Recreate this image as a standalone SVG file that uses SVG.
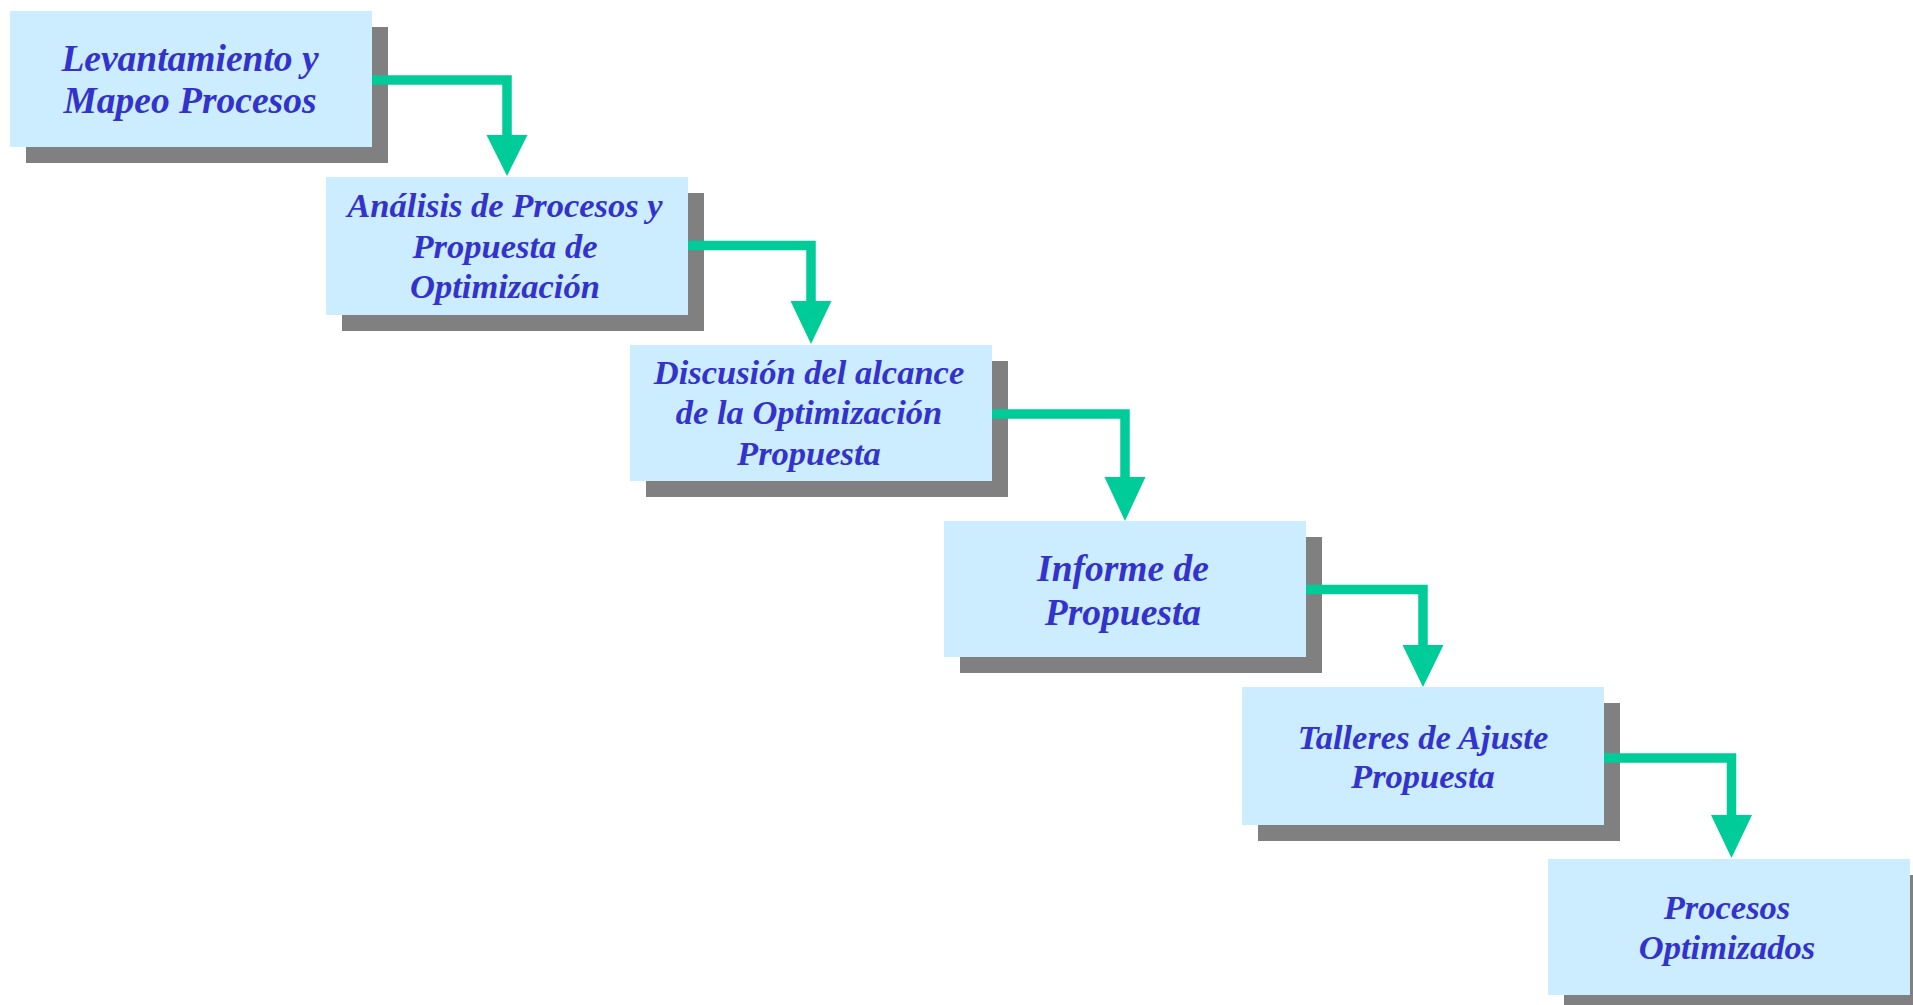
<svg xmlns="http://www.w3.org/2000/svg" width="1913" height="1005" viewBox="0 0 1913 1005">
<style>
.shadow{fill:#808080}
.box{fill:#CCECFF}
.t{font-family:"Liberation Serif","Times New Roman",serif;font-weight:bold;font-style:italic;fill:#3333CC;text-anchor:middle}
.lg{font-size:37.5px}
.sm{font-size:34.5px}
.conn{fill:none;stroke:#00CC99;stroke-width:9.5;stroke-linejoin:miter}
.head{fill:#00CC99}
</style>
<rect width="1913" height="1005" fill="#FFFFFF"/>
<g id="node1">
<rect class="shadow" x="26" y="27" width="362" height="136"/>
<rect class="box" x="10" y="11" width="362" height="136"/>
<text class="t lg" x="190" y="71">Levantamiento y</text>
<text class="t lg" x="190" y="113">Mapeo Procesos</text>
</g>
<g id="node2">
<rect class="shadow" x="342" y="193" width="362" height="138"/>
<rect class="box" x="326" y="177" width="362" height="138"/>
<text class="t sm" x="505" y="217">Análisis de Procesos y</text>
<text class="t sm" x="505" y="258">Propuesta de</text>
<text class="t sm" x="505" y="298">Optimización</text>
</g>
<g id="node3">
<rect class="shadow" x="646" y="361" width="362" height="136"/>
<rect class="box" x="630" y="345" width="362" height="136"/>
<text class="t sm" x="809" y="384">Discusión del alcance</text>
<text class="t sm" x="809" y="424">de la Optimización</text>
<text class="t sm" x="809" y="465">Propuesta</text>
</g>
<g id="node4">
<rect class="shadow" x="960" y="537" width="362" height="136"/>
<rect class="box" x="944" y="521" width="362" height="136"/>
<text class="t lg" x="1123" y="581">Informe de</text>
<text class="t lg" x="1123" y="625">Propuesta</text>
</g>
<g id="node5">
<rect class="shadow" x="1258" y="703" width="362" height="138"/>
<rect class="box" x="1242" y="687" width="362" height="138"/>
<text class="t sm" x="1423" y="749">Talleres de Ajuste</text>
<text class="t sm" x="1423" y="788">Propuesta</text>
</g>
<g id="node6">
<rect class="shadow" x="1564" y="875" width="362" height="136"/>
<rect class="box" x="1548" y="859" width="362" height="136"/>
<text class="t sm" x="1727" y="919">Procesos</text>
<text class="t sm" x="1727" y="959">Optimizados</text>
</g>
<g id="connectors">
<path class="conn" d="M372 80 H507 V136"/>
<polygon class="head" points="486.5,135 527.5,135 507,176"/>
<path class="conn" d="M688 245.5 H811 V302"/>
<polygon class="head" points="790.5,301 831.5,301 811,344"/>
<path class="conn" d="M992 414 H1125 V478"/>
<polygon class="head" points="1104.5,477 1145.5,477 1125,521"/>
<path class="conn" d="M1306 589.5 H1423 V646"/>
<polygon class="head" points="1402.5,645 1443.5,645 1423,687"/>
<path class="conn" d="M1604 758 H1731.5 V816"/>
<polygon class="head" points="1711,815 1752,815 1731.5,858"/>
</g>
</svg>
